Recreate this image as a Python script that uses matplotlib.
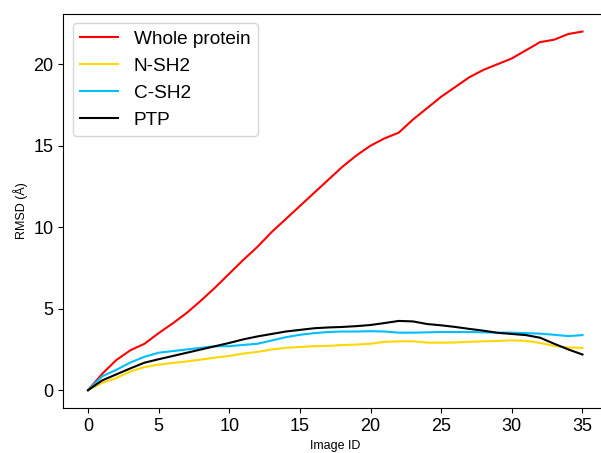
import matplotlib
matplotlib.use("Agg")
import matplotlib.pyplot as plt
import numpy as np

plt.rcParams["font.family"] = ["Liberation Sans", "DejaVu Sans"]

image_id = np.arange(36)

whole_protein = [0.0, 1.0, 1.85, 2.45, 2.85, 3.5, 4.1, 4.75, 5.5, 6.3,
                 7.15, 8.0, 8.8, 9.7, 10.5, 11.3, 12.1, 12.9, 13.7, 14.4,
                 15.0, 15.45, 15.8, 16.6, 17.3, 18.0, 18.6, 19.2, 19.65, 20.0,
                 20.35, 20.85, 21.35, 21.5, 21.85, 22.0]
n_sh2 = [0.0, 0.45, 0.75, 1.15, 1.42, 1.57, 1.67, 1.77, 1.88, 2.0,
         2.1, 2.25, 2.35, 2.5, 2.6, 2.65, 2.7, 2.72, 2.77, 2.8,
         2.85, 2.97, 3.0, 3.0, 2.92, 2.92, 2.93, 2.97, 3.0, 3.02,
         3.06, 3.03, 2.9, 2.72, 2.62, 2.6]
c_sh2 = [0.0, 0.85, 1.25, 1.7, 2.05, 2.3, 2.4, 2.5, 2.6, 2.7,
         2.7, 2.78, 2.85, 3.05, 3.25, 3.4, 3.5, 3.57, 3.6, 3.6,
         3.62, 3.6, 3.53, 3.53, 3.55, 3.57, 3.57, 3.57, 3.55, 3.53,
         3.53, 3.5, 3.47, 3.4, 3.32, 3.38]
ptp = [0.0, 0.6, 0.97, 1.34, 1.69, 1.9, 2.1, 2.3, 2.5, 2.7,
       2.9, 3.12, 3.3, 3.45, 3.6, 3.7, 3.8, 3.85, 3.88, 3.93,
       4.0, 4.12, 4.25, 4.22, 4.06, 3.98, 3.88, 3.76, 3.65, 3.52,
       3.45, 3.38, 3.22, 2.85, 2.5, 2.19]

series = [
    ("Whole protein", whole_protein, "#ff0000"),
    ("N-SH2", n_sh2, "#ffd700"),
    ("C-SH2", c_sh2, "#00bfff"),
    ("PTP", ptp, "#000000"),
]

fig = plt.figure(figsize=(6.01, 4.53), dpi=100)
# the original is cropped just past x=35, so the right spine is not shown
ax = fig.add_axes([0.1053, 0.099, 0.905, 0.871])
ax.spines["right"].set_visible(False)

for label, vals, color in series:
    ax.plot(image_id, vals, color=color, lw=1.5, label=label)

ax.set_xticks([0, 5, 10, 15, 20, 25, 30, 35])
ax.set_yticks([0, 5, 10, 15, 20])
ax.tick_params(labelsize=13)
ax.set_xlabel("Image ID", fontsize=9)
ax.set_ylabel("RMSD (Å)", fontsize=9)
ax.legend(loc="upper left", fontsize=13.7)

fig.savefig("out.png", dpi=100)
